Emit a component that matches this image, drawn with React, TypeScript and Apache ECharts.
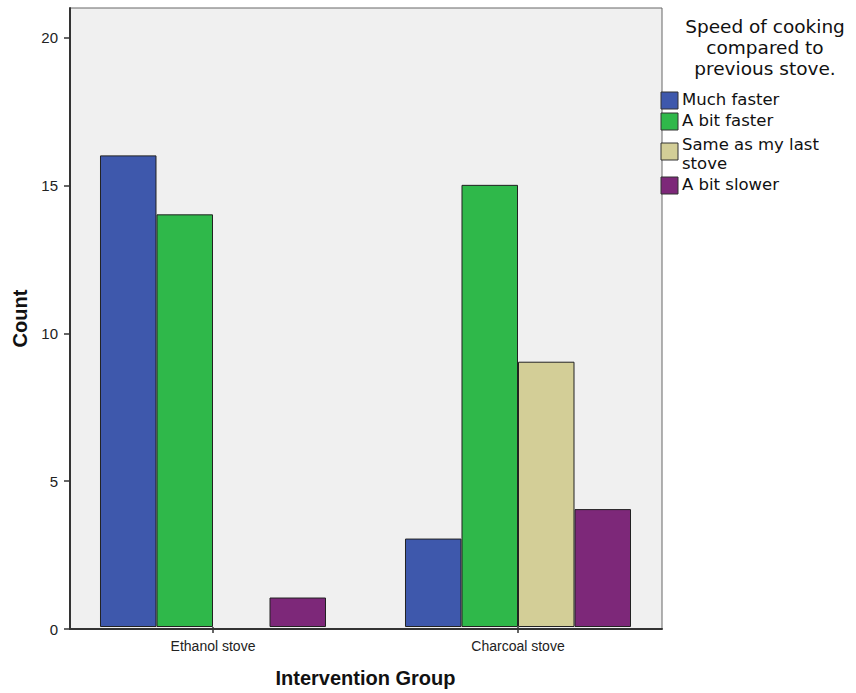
import React, { useEffect, useRef } from "react";
import * as echarts from "echarts";

const categories = ["Ethanol stove", "Charcoal stove"];
const seriesNames = ["Much faster", "A bit faster", "Same as my last\nstove", "A bit slower"];
const muchFaster = [16, 3];
const bitFaster = [14, 15];
const sameAsLast = [0, 9];
const bitSlower = [1, 4];
const yTicks = [0, 5, 10, 15, 20];
const colors = ["#3e58ac", "#2fb84a", "#d3ce97", "#7d2879"];
const legendTitle = "Speed of cooking\ncompared to\nprevious stove.";

export default function App() {
  const ref = useRef<HTMLDivElement>(null);
  useEffect(() => {
    if (!ref.current) return;
    const chart = echarts.init(ref.current, null, { renderer: "svg" });
    const values = [muchFaster, bitFaster, sameAsLast, bitSlower];
    const legendTops = [90, 111, 135, 175];
    const legendGraphics: any[] = [];
    seriesNames.forEach((name, i) => {
      legendGraphics.push({
        type: "rect",
        x: 661,
        y: legendTops[i] + (i === 2 ? 8 : 2),
        shape: { width: 17, height: 17 },
        style: { fill: colors[i], stroke: "#333", lineWidth: 1 },
      });
      legendGraphics.push({
        type: "text",
        x: 682,
        y: legendTops[i],
        style: {
          text: name,
          fontFamily: "DejaVu Sans",
          fontSize: 16.5,
          lineHeight: 19,
          fill: "#111",
        },
      });
    });
    const axisFont = "Liberation Sans";
    chart.setOption({
      animation: false,
      backgroundColor: "#ffffff",
      grid: [
        {
          left: 70,
          top: 8,
          width: 592,
          height: 621,
          show: true,
          backgroundColor: "#f0f0f0",
          borderColor: "#666",
          borderWidth: 1,
        },
        {
          left: 60.5,
          top: 8,
          width: 610,
          height: 621,
          show: false,
        },
      ],
      xAxis: [
        {
          gridIndex: 0,
          type: "value",
          min: 0,
          max: 1,
          axisLine: { show: true, lineStyle: { color: "#333", width: 2 } },
          axisTick: { show: false },
          axisLabel: { show: false },
          splitLine: { show: false },
        },
        {
          gridIndex: 1,
          type: "category",
          data: categories,
          name: "Intervention Group",
          nameLocation: "middle",
          nameGap: 41,
          nameTextStyle: { fontFamily: axisFont, fontWeight: "bold", fontSize: 20, color: "#111" },
          axisLine: { show: false },
          axisTick: { show: true, alignWithLabel: true, length: 6, lineStyle: { color: "#333", width: 1.5 } },
          axisLabel: { margin: 12, fontFamily: axisFont, fontSize: 14, color: "#222" },
        },
      ],
      yAxis: [
        {
          gridIndex: 0,
          type: "value",
          min: 0,
          max: 21,
          interval: 5,
          name: "Count",
          nameLocation: "middle",
          nameGap: 38,
          nameTextStyle: { fontFamily: axisFont, fontWeight: "bold", fontSize: 20, color: "#111" },
          splitLine: { show: false },
          axisLine: { show: true, lineStyle: { color: "#333", width: 2 } },
          axisTick: { show: true, length: 6, customValues: yTicks, lineStyle: { color: "#333", width: 1.5 } },
          axisLabel: { margin: 12, customValues: yTicks, fontFamily: axisFont, fontSize: 15, color: "#222" },
        },
        {
          gridIndex: 1,
          type: "value",
          min: 0,
          max: 21,
          show: false,
        },
      ],
      series: values.map((v, i) => ({
        type: "bar",
        name: seriesNames[i],
        xAxisIndex: 1,
        yAxisIndex: 1,
        data: v.map((val) => (val === 0 ? { value: val, itemStyle: { borderWidth: 0, opacity: 0 } } : val)),
        barGap: "0%",
        barCategoryGap: "25.9%",
        itemStyle: { color: colors[i], borderColor: "#222", borderWidth: 1 },
      })),
      graphic: [
        {
          type: "text",
          x: 765,
          y: 16,
          style: {
            text: legendTitle,
            fontFamily: "DejaVu Sans",
            fontSize: 18.5,
            lineHeight: 21,
            align: "center",
            fill: "#111",
          },
        },
        ...legendGraphics,
      ],
    });
    return () => chart.dispose();
  }, []);
  return <div ref={ref} style={{ position: "absolute", left: 0, top: 0, width: 856, height: 693 }} />;
}
